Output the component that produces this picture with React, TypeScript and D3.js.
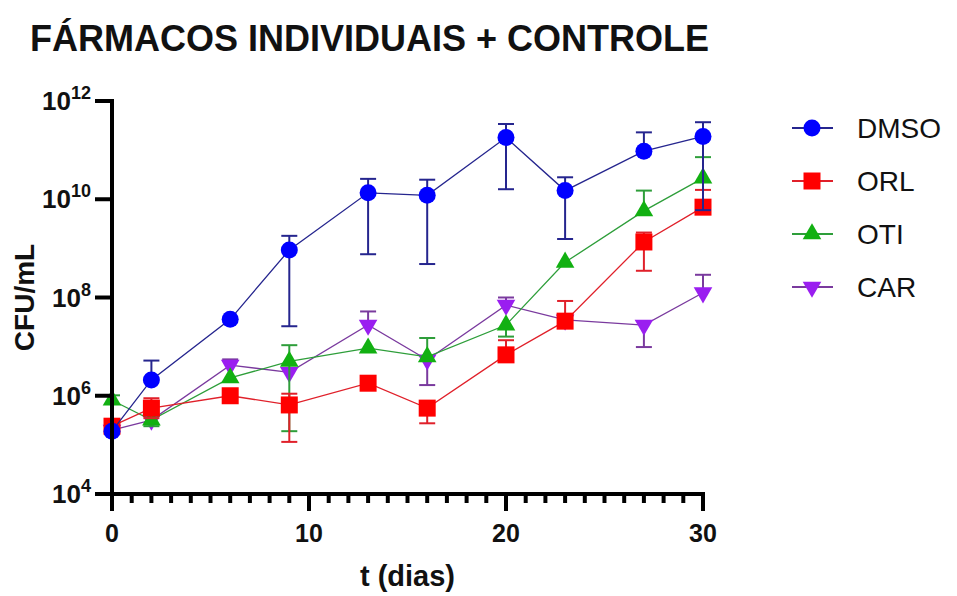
import React from "react";
import * as d3 from "d3";

const days = [0, 2, 6, 9, 13, 16, 20, 23, 27, 30];
const seriesNames = ["DMSO", "ORL", "OTI", "CAR"];

const dmsoMean = [1.9e5, 2.1e6, 3.6e7, 9.3e8, 1.35e10, 1.2e10, 1.8e11, 1.5e10, 9.5e10, 1.9e11];
const dmsoUpper = [null, 5.2e6, null, 1.8e9, 2.6e10, 2.5e10, 3.4e11, 2.8e10, 2.3e11, 3.7e11];
const dmsoLower = [null, null, null, 2.6e7, 7.6e8, 4.8e8, 1.6e10, 1.55e9, null, 6e9];

const orlMean = [2.4e5, 5.6e5, 1e6, 6.5e5, 1.8e6, 5.6e5, 6.8e6, 3.3e7, 1.35e9, 6.9e9];
const orlUpper = [null, 8.9e5, null, 1.1e6, null, null, 1.35e7, 8.5e7, 2.1e9, 1.55e10];
const orlLower = [null, 3.5e5, null, 1.15e5, null, 2.75e5, null, null, 3.5e8, null];

const otiMean = [8.1e5, 3.2e5, 2.3e6, 5e6, 9.3e6, 6.2e6, 2.75e7, 5.2e8, 5.8e9, 2.7e10];
const otiUpper = [1.02e6, null, null, 1.07e7, null, 1.5e7, null, null, 1.5e10, 7.2e10];
const otiLower = [null, 2.4e5, null, 1.9e5, null, null, 1.6e7, null, null, null];

const carMean = [2e5, 3.2e5, 4.2e6, 3e6, 2.75e7, 5.4e6, 7e7, 3.5e7, 2.75e7, 1.25e8];
const carUpper = [null, null, 5.5e6, null, 5.2e7, null, 1e8, null, null, 2.9e8];
const carLower = [null, null, null, null, null, 1.65e6, null, null, 9.8e6, null];

const yTickExps = [4, 6, 8, 10, 12];
const xMajorTicks = [0, 10, 20, 30];

type Series = {
  name: string;
  mean: number[];
  upper: (number | null)[];
  lower: (number | null)[];
  fill: string;
  stroke: string;
  symbol: d3.SymbolType;
  size: number;
  rotate: number;
};

const FONT = "'Liberation Sans', Arial, Helvetica, sans-serif";

export default function App() {
  const W = 957;
  const H = 596;
  const x = d3.scaleLinear().domain([0, 30]).range([112, 703]);
  const y = d3.scaleLog().domain([1e4, 1e12]).range([494, 101]);

  const series: Series[] = [
    { name: seriesNames[0], mean: dmsoMean, upper: dmsoUpper, lower: dmsoLower, fill: "#0000ff", stroke: "#25258e", symbol: d3.symbolCircle, size: Math.PI * 8.5 * 8.5, rotate: 0 },
    { name: seriesNames[1], mean: orlMean, upper: orlUpper, lower: orlLower, fill: "#ff0000", stroke: "#e0202a", symbol: d3.symbolSquare, size: 17 * 17, rotate: 0 },
    { name: seriesNames[2], mean: otiMean, upper: otiUpper, lower: otiLower, fill: "#12b012", stroke: "#2e9e3a", symbol: d3.symbolTriangle, size: 150, rotate: 0 },
    { name: seriesNames[3], mean: carMean, upper: carUpper, lower: carLower, fill: "#9a1ef0", stroke: "#7a3a9e", symbol: d3.symbolTriangle, size: 150, rotate: 180 },
  ];

  const line = d3
    .line<number>()
    .x((_, i) => x(days[i]))
    .y((d) => y(d));

  const drawOrder = [3, 2, 1, 0];
  const capHalf = 8;
  const minorTicks = d3.range(0, 31).filter((t) => t % 10 !== 0);

  const legendX = 792;
  const legendY0 = 128;
  const legendStep = 53;

  return (
    <svg width={W} height={H} style={{ position: "absolute", left: 0, top: 0, background: "#fff" }} fontFamily={FONT}>
      <rect x={0} y={0} width={W} height={H} fill="#fff" />
      {/* title */}
      <text x={30} y={51} fontSize={36} fontWeight="bold" fill="#111">
        FÁRMACOS INDIVIDUAIS + CONTROLE
      </text>

      {/* data */}
      {drawOrder.map((si) => {
        const s = series[si];
        const sym = d3.symbol().type(s.symbol).size(s.size)()!;
        return (
          <g key={s.name}>
            <path d={line(s.mean)!} fill="none" stroke={s.stroke} strokeWidth={1.3} />
            {s.mean.map((m, i) => {
              const cx = x(days[i]);
              const up = s.upper[i];
              const lo = s.lower[i];
              return (
                <g key={i} stroke={s.stroke} strokeWidth={2}>
                  {up != null && (
                    <>
                      <line x1={cx} x2={cx} y1={y(m)} y2={y(up)} />
                      <line x1={cx - capHalf} x2={cx + capHalf} y1={y(up)} y2={y(up)} />
                    </>
                  )}
                  {lo != null && (
                    <>
                      <line x1={cx} x2={cx} y1={y(m)} y2={y(lo)} />
                      <line x1={cx - capHalf} x2={cx + capHalf} y1={y(lo)} y2={y(lo)} />
                    </>
                  )}
                </g>
              );
            })}
            {s.mean.map((m, i) => (
              <path
                key={"m" + i}
                d={sym}
                transform={`translate(${x(days[i])},${y(m)}) rotate(${s.rotate})`}
                fill={s.fill}
              />
            ))}
          </g>
        );
      })}

      {/* y axis */}
      <line x1={112} x2={112} y1={y(1e12) - 2} y2={y(1e4)} stroke="#000" strokeWidth={4} />
      {yTickExps.map((e) => (
        <g key={e}>
          <line x1={95} x2={112} y1={y(Math.pow(10, e))} y2={y(Math.pow(10, e))} stroke="#000" strokeWidth={4} />
          <text x={91} y={y(Math.pow(10, e)) + 9} textAnchor="end" fontSize={26} fontWeight="bold" fill="#111">
            10
            <tspan fontSize={18} dy={-11}>
              {e}
            </tspan>
          </text>
        </g>
      ))}
      <text
        transform={`translate(34,${(y(1e4) + y(1e12)) / 2}) rotate(-90)`}
        textAnchor="middle"
        fontSize={28}
        fontWeight="bold"
        fill="#111"
      >
        CFU/mL
      </text>

      {/* x axis */}
      <line x1={110} x2={x(30) + 2} y1={494} y2={494} stroke="#000" strokeWidth={4} />
      {minorTicks.map((t) => (
        <line key={t} x1={x(t)} x2={x(t)} y1={494} y2={503} stroke="#000" strokeWidth={4} />
      ))}
      {xMajorTicks.map((t) => (
        <g key={t}>
          <line x1={x(t)} x2={x(t)} y1={494} y2={511} stroke="#000" strokeWidth={4} />
          <text x={x(t)} y={542} textAnchor="middle" fontSize={25} fontWeight="bold" fill="#111">
            {t}
          </text>
        </g>
      ))}
      <text x={(x(0) + x(30)) / 2} y={586} textAnchor="middle" fontSize={29} fontWeight="bold" fill="#111">
        t (dias)
      </text>

      {/* legend */}
      {series.map((s, i) => {
        const ly = legendY0 + i * legendStep;
        const sym = d3.symbol().type(s.symbol).size(s.size)()!;
        return (
          <g key={s.name}>
            <line x1={legendX} x2={legendX + 41} y1={ly} y2={ly} stroke={s.stroke} strokeWidth={2} />
            <path d={sym} transform={`translate(${legendX + 20},${ly}) rotate(${s.rotate})`} fill={s.fill} />
            <text x={857} y={ly + 10} fontSize={28} fill="#111">
              {s.name}
            </text>
          </g>
        );
      })}
    </svg>
  );
}
